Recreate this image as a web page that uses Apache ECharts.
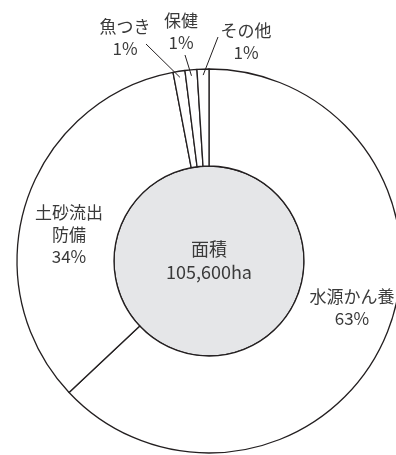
<!DOCTYPE html>
<html>
<head>
<meta charset="utf-8">
<script src="https://cdn.jsdelivr.net/npm/echarts@6/dist/echarts.min.js"></script>
<style>
  html, body { margin: 0; padding: 0; background: #fff; }
  #chart { width: 396px; height: 455px; }
</style>
</head>
<body>
<div id="chart"></div>
<script>
// Forest purposes by share of the designated area
const categories = ['水源かん養', '土砂流出防備', '魚つき', '保健', 'その他'];
const labelNames = ['水源かん養', '土砂流出\n防備', '魚つき', '保健', 'その他'];
const shares = [63, 34, 1, 1, 1];
const centerTitle = '面積';
const centerValue = '105,600ha';

// Label anchor points (px) for each slice, in category order
const labelAnchors = [[352, 308], [69, 235], [125, 38], [181, 32], [246, 42]];
// Where each leader line meets its label (only the thin slices have one)
const leaderEnds = [null, null, [146, 44], [185, 55], [218, 37]];

const FONT = '"Noto Sans CJK JP", "Noto Sans", sans-serif';
const INK = '#231f20';
const TEXT = '#3a3a3a';
const CENTER = [209, 261];
const INNER_R = 95;
const OUTER_R = 192;

const total = shares.reduce((s, v) => s + v, 0);

// Point at radius r on the middle angle of slice i (clockwise from 12 o'clock)
function sliceMidPoint(i, r) {
  let before = 0;
  for (let k = 0; k < i; k++) before += shares[k];
  const frac = (before + shares[i] / 2) / total;
  const ang = (90 - frac * 360) * Math.PI / 180;
  return [CENTER[0] + r * Math.cos(ang), CENTER[1] - r * Math.sin(ang)];
}

// Leader lines for the thin slices, from inside the ring out to the label
const leaderLines = [];
leaderEnds.forEach((end, i) => {
  if (!end) return;
  const p = sliceMidPoint(i, OUTER_R - 6);
  leaderLines.push({
    type: 'line',
    silent: true,
    z: 100,
    shape: { x1: p[0], y1: p[1], x2: end[0], y2: end[1] },
    style: { stroke: INK, lineWidth: 1 }
  });
});

const chart = echarts.init(document.getElementById('chart'), null, { renderer: 'canvas' });

const ringData = categories.map((name, i) => ({
  name: name,
  value: shares[i],
  label: { position: leaderEnds[i] ? 'outside' : 'inside' }
}));

chart.setOption({
  animation: false,
  graphic: { elements: leaderLines },
  series: [
    {
      type: 'pie',
      center: CENTER,
      radius: [0, INNER_R],
      silent: true,
      itemStyle: { color: '#e5e6e8', borderColor: INK, borderWidth: 1.3 },
      label: {
        show: true,
        position: 'center',
        formatter: () => centerTitle + '\n' + centerValue,
        fontFamily: FONT,
        fontSize: 18,
        lineHeight: 23,
        padding: [12, 0, 0, 0],
        color: TEXT
      },
      labelLine: { show: false },
      data: [{ name: centerTitle, value: 1 }]
    },
    {
      type: 'pie',
      center: CENTER,
      radius: [INNER_R, OUTER_R],
      startAngle: 90,
      clockwise: true,
      silent: true,
      avoidLabelOverlap: false,
      itemStyle: { color: '#ffffff', borderColor: INK, borderWidth: 1.3 },
      label: {
        show: true,
        formatter: (p) => labelNames[p.dataIndex] + '\n' + p.value + '%',
        fontFamily: FONT,
        fontSize: 17,
        lineHeight: 22,
        color: TEXT,
        align: 'center'
      },
      labelLine: { show: false },
      labelLayout: function (params) {
        if (params.seriesIndex !== 1) return {};
        const a = labelAnchors[params.dataIndex];
        return { x: a[0], y: a[1], align: 'center', verticalAlign: 'middle' };
      },
      data: ringData
    }
  ]
});
</script>
</body>
</html>
